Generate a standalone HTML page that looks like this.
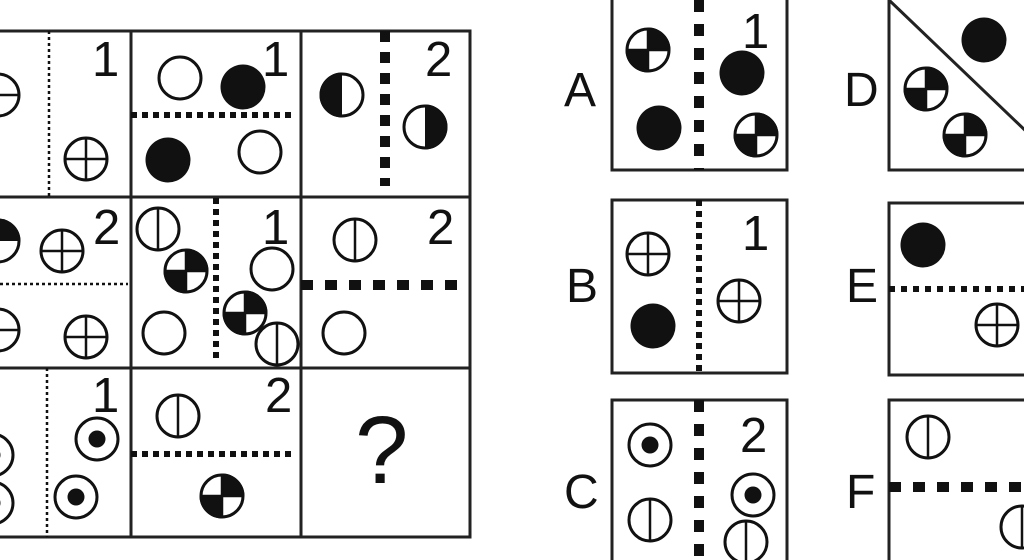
<!DOCTYPE html>
<html><head><meta charset="utf-8"><style>html,body{margin:0;padding:0;background:#fff}svg{display:block}</style></head>
<body>
<svg width="1024" height="560" viewBox="0 0 1024 560" xmlns="http://www.w3.org/2000/svg">
<defs>
<g id="o"><circle r="21" fill="#fff" stroke="#111" stroke-width="3"/></g>
<g id="f"><circle r="22.5" fill="#111"/></g>
<g id="p"><circle r="21" fill="#fff" stroke="#111" stroke-width="3"/><path d="M-21 0H21M0 -21V21" stroke="#111" stroke-width="2.5"/></g>
<g id="v"><circle r="21" fill="#fff" stroke="#111" stroke-width="3"/><path d="M0 -21V21" stroke="#111" stroke-width="2.5"/></g>
<g id="h"><circle r="21" fill="#fff" stroke="#111" stroke-width="3"/><path d="M-21 0H21" stroke="#111" stroke-width="2.5"/></g>
<g id="q"><circle r="21" fill="#fff" stroke="#111" stroke-width="3"/><path d="M0 0V-22.5A22.5 22.5 0 0 1 22.5 0Z M0 0H-22.5A22.5 22.5 0 0 0 0 22.5Z" fill="#111"/><path d="M-21 0H21M0 -21V21" stroke="#111" stroke-width="2.5"/></g>
<g id="r"><circle r="21" fill="#fff" stroke="#111" stroke-width="3"/><circle r="8.5" fill="#111"/></g>
<g id="hl"><circle r="21" fill="#fff" stroke="#111" stroke-width="3"/><path d="M0 -22.5A22.5 22.5 0 0 0 0 22.5Z" fill="#111"/></g>
<g id="hr"><circle r="21" fill="#fff" stroke="#111" stroke-width="3"/><path d="M0 -22.5A22.5 22.5 0 0 1 0 22.5Z" fill="#111"/></g>
<g id="ht"><circle r="21" fill="#fff" stroke="#111" stroke-width="3"/><path d="M-22.5 0A22.5 22.5 0 0 1 22.5 0Z" fill="#111"/></g>
</defs>
<g font-family="Liberation Sans, sans-serif" fill="#111">
<g stroke="#222" stroke-width="3" fill="none">
<path d="M-5 31H470V537H-5"/>
<path d="M131 31V537M301 31V537M-5 197H470M-5 368H470"/>
</g>
<g stroke="#111" fill="none">
<path d="M49 31V196" stroke-width="2.5" stroke-dasharray="3 3"/>
<path d="M131 115H293" stroke-width="6" stroke-dasharray="6 5"/>
<path d="M385 31V186" stroke-width="10" stroke-dasharray="11 10"/>
<path d="M0 284H128" stroke-width="2.5" stroke-dasharray="3 3"/>
<path d="M216 198V363" stroke-width="6" stroke-dasharray="6 5"/>
<path d="M301 285H458" stroke-width="10" stroke-dasharray="12 12"/>
<path d="M47 368V537" stroke-width="2.5" stroke-dasharray="3 3"/>
<path d="M131 454H293" stroke-width="6" stroke-dasharray="6 5"/>
</g>
<g font-size="49">
<text x="92" y="76">1</text><text x="262" y="76">1</text><text x="425" y="76">2</text>
<text x="93" y="244">2</text><text x="262" y="244">1</text><text x="427" y="244">2</text>
<text x="92" y="412">1</text><text x="265" y="412">2</text>
</g>
<text x="355" y="483" font-size="96">?</text>
<use href="#h" x="-2" y="95"/><use href="#p" x="86" y="159"/>
<use href="#o" x="180" y="78"/><use href="#f" x="243" y="87"/><use href="#f" x="168" y="160"/><use href="#o" x="260" y="152"/>
<use href="#hl" x="342" y="95"/><use href="#hr" x="425" y="127"/>
<use href="#ht" x="-2" y="241"/><use href="#p" x="62" y="251"/><use href="#h" x="-2" y="330"/><use href="#p" x="86" y="337"/>
<use href="#v" x="158" y="229"/><use href="#q" x="186" y="271"/><use href="#o" x="164" y="333"/>
<use href="#o" x="272" y="269"/><use href="#q" x="245" y="313"/><use href="#v" x="277" y="344"/>
<use href="#v" x="355" y="240"/><use href="#o" x="344" y="333"/>
<use href="#r" x="-8" y="455"/><use href="#r" x="-8" y="503"/><use href="#r" x="97" y="439"/><use href="#r" x="76" y="497"/>
<use href="#v" x="178" y="416"/><use href="#q" x="222" y="496"/>
<g font-size="48"><text x="564" y="106">A</text><text x="566" y="302">B</text><text x="564" y="508">C</text>
<text x="844" y="106">D</text><text x="846" y="302">E</text><text x="846" y="508">F</text></g>
<g stroke="#222" stroke-width="3" fill="none">
<path d="M612 -5V170H787V-5"/>
<rect x="612" y="200" width="175" height="173"/>
<path d="M612 565V400H787V565"/>
<path d="M889 -5V170H1030M889 0L1030 135"/>
<path d="M1030 203H889V375H1030"/>
<path d="M1030 400H889V565"/>
</g>
<g stroke="#111" fill="none">
<path d="M699 0V170" stroke-width="10" stroke-dasharray="12 12"/>
<path d="M699 200V373" stroke-width="6" stroke-dasharray="6 5"/>
<path d="M699 400V560" stroke-width="10" stroke-dasharray="12 12"/>
<path d="M889 289H1024" stroke-width="6" stroke-dasharray="6 6"/>
<path d="M889 487H1024" stroke-width="10" stroke-dasharray="12 12"/>
</g>
<g font-size="49"><text x="742" y="48">1</text><text x="742" y="250">1</text><text x="740" y="452">2</text></g>
<use href="#q" x="648" y="50"/><use href="#f" x="742" y="73"/><use href="#f" x="659" y="128"/><use href="#q" x="756" y="135"/>
<use href="#p" x="648" y="254"/><use href="#f" x="653" y="326"/><use href="#p" x="739" y="301"/>
<use href="#r" x="650" y="445"/><use href="#r" x="753" y="495"/><use href="#v" x="650" y="520"/><use href="#v" x="746" y="542"/>
<use href="#f" x="984" y="40"/><use href="#q" x="926" y="89"/><use href="#q" x="965" y="135"/>
<use href="#f" x="923" y="245"/><use href="#p" x="997" y="325"/>
<use href="#v" x="928" y="437"/><use href="#v" x="1022" y="527"/>
</g>
</svg>
</body></html>
